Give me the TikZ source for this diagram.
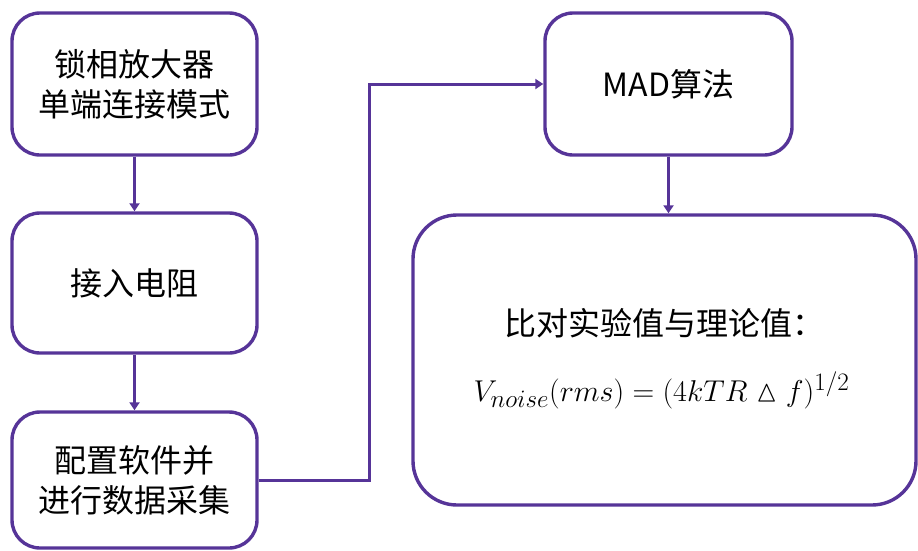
\documentclass[tikz,border=0pt]{standalone}
\usepackage{fontspec}
\usepackage{amssymb}
\newfontfamily\cjk{Noto Sans CJK SC}
\usetikzlibrary{arrows.meta}
\definecolor{lineviolet}{RGB}{86,52,152}
\tikzset{
  boxstyle/.style={draw=lineviolet, line width=3.4pt, rounded corners=28pt, fill=white,
    align=center, font=\cjk\fontsize{32}{40}\selectfont, inner sep=0pt},
  arr/.style={draw=lineviolet, line width=3pt, -{Triangle[width=10pt,length=8pt]}},
}
\begin{document}
\begin{tikzpicture}[x=1pt,y=-1pt]
\useasboundingbox (0,0) rectangle (918,550);
\node[boxstyle, minimum width=245pt, minimum height=142pt] (b1) at (134.5,84) {锁相放大器\\单端连接模式};
\node[boxstyle, minimum width=245pt, minimum height=140pt] (b2) at (134.5,283) {接入电阻};
\node[boxstyle, minimum width=245pt, minimum height=136pt] (b3) at (134.5,480) {配置软件并\\进行数据采集};
\node[boxstyle, minimum width=247pt, minimum height=142pt] (mad) at (668.5,84) {MAD算法};
\node[boxstyle, rounded corners=44pt, minimum width=503pt, minimum height=290pt] (cmp) at (664.5,360) {};
\node[font=\cjk\fontsize{32}{40}\selectfont, inner sep=0pt] (t1) at (664.5,323) {比对实验值与理论值：};
\node[inner sep=0pt] (t2) at (661.5,390) {\scalebox{1.21}{\Huge $V_{noise}(rms)=(4kTR\vartriangle f)^{1/2}$}};
\coordinate (bendx) at (369,0);
\draw[arr] (b1.south) -- (b2.north);
\draw[arr] (b2.south) -- (b3.north);
\draw[arr] (b3.east) -- (b3.east -| bendx) |- (mad.west);
\draw[arr] (mad.south) -- (mad.south |- cmp.north);
\end{tikzpicture}
\end{document}
